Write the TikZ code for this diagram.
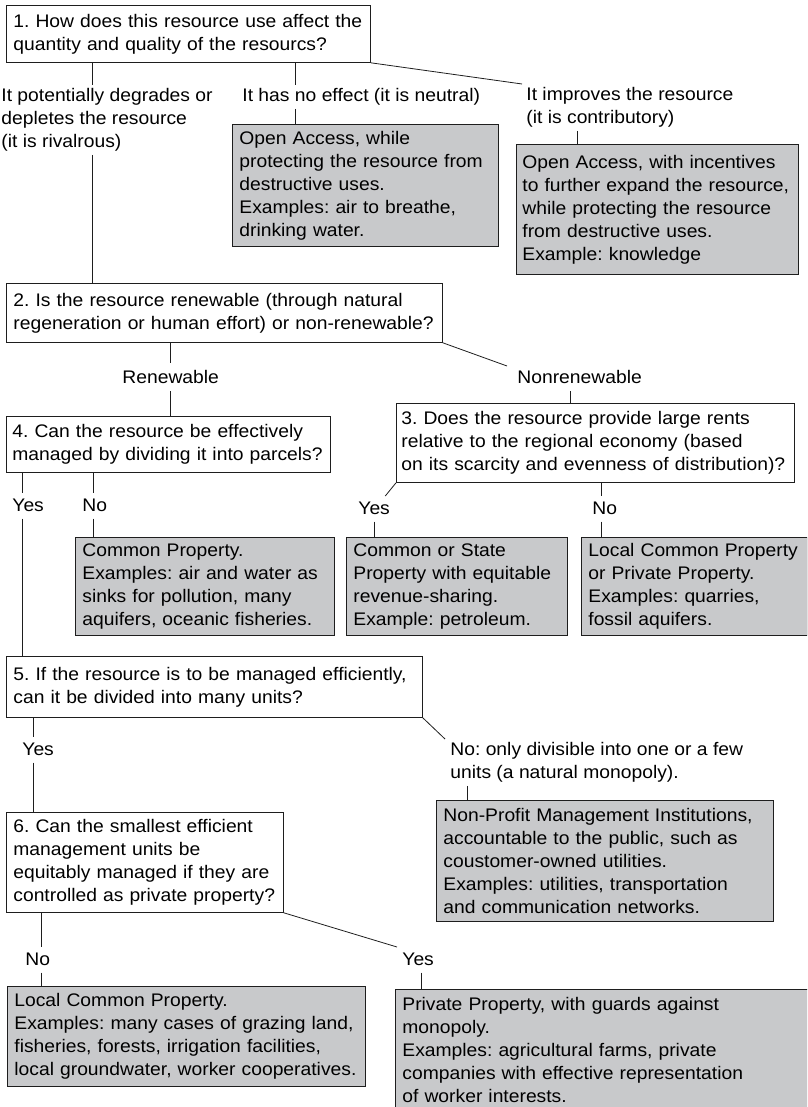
\documentclass[tikz,border=0pt]{standalone}
\usepackage{fontspec}
\setmainfont{Liberation Sans}[FakeStretch=1.06]
\frenchspacing
\definecolor{boxgray}{RGB}{200,201,203}
\definecolor{inkgray}{RGB}{30,30,30}
\tikzset{
  question/.style={draw=inkgray, fill=white, anchor=north west, align=left, inner xsep=7pt, inner ysep=0pt},
  answer/.style={question, fill=boxgray},
  branch/.style={anchor=north west, align=left, inner xsep=0pt, inner ysep=3pt},
}
\begin{document}
\begin{tikzpicture}[x=1pt, y=-1pt, font=\fontsize{18.2}{23}\selectfont, line width=0.8pt, draw=inkgray]
    \useasboundingbox (0,0) rectangle (807,1107);
    \clip (0,0) rectangle (807,1107);

    % Nodes
    \node[question, text width=350pt, minimum height=57pt] (Q1) at (6,5) {1. How does this resource use affect the\\quantity and quality of the resourcs?};

    \node[branch] (Rival) at (1,85) {It potentially degrades or\\depletes the resource\\(it is rivalrous)};
    \node[branch] (Neutral) at (242,85) {It has no effect (it is neutral)};
    \node[branch] (Contrib) at (526,84) {It improves the resource\\(it is contributory)};

    \node[answer, text width=252pt, minimum height=122pt] (A1) at (232,124) {Open Access, while\\protecting the resource from\\destructive uses.\\Examples: air to breathe,\\drinking water.};
    \node[answer, inner xsep=6pt, text width=270pt, minimum height=130pt] (A2) at (516,144) {Open Access, with incentives\\to further expand the resource,\\while protecting the resource\\from destructive uses.\\Example: knowledge};

    \node[question, text width=422pt, minimum height=59pt] (Q2) at (6,283) {2. Is the resource renewable (through natural\\regeneration or human effort) or non-renewable?};

    \node[branch, inner ysep=7pt] (Renew) at (122,363) {Renewable};
    \node[branch, inner ysep=7pt] (Nonrenew) at (517,363) {Nonrenewable};

    \node[question, inner xsep=6pt, text width=312pt, minimum height=56pt] (Q4) at (6,416) {4. Can the resource be effectively\\managed by dividing it into parcels?};
    \node[question, inner xsep=5pt, text width=388pt, minimum height=79pt] (Q3) at (396,403) {3. Does the resource provide large rents\\relative to the regional economy (based\\on its scarcity and evenness of distribution)?};

    \node[branch, inner ysep=6pt] (Yes4) at (12,493) {Yes};
    \node[branch, inner ysep=6pt] (No4) at (82,493) {No};
    \node[branch, inner ysep=6pt] (Yes3) at (358,496) {Yes};
    \node[branch, inner ysep=6pt] (No3) at (592,496) {No};

    \node[answer, text width=245pt, minimum height=98pt] (A3) at (75,537) {Common Property.\\Examples: air and water as\\sinks for pollution, many\\aquifers, oceanic fisheries.};
    \node[answer, text width=207pt, minimum height=98pt] (A4) at (346,537) {Common or State\\Property with equitable\\revenue-sharing.\\Example: petroleum.};
    \node[answer, text width=212pt, minimum height=98pt] (A5) at (581,537) {Local Common Property\\or Private Property.\\Examples: quarries,\\fossil aquifers.};

    \node[question, text width=402pt, minimum height=61pt] (Q5) at (6,656) {5. If the resource is to be managed efficiently,\\can it be divided into many units?};

    \node[branch, inner ysep=6pt] (Yes5) at (22,737) {Yes};
    \node[branch] (No5) at (450,739) {No: only divisible into one or a few\\units (a natural monopoly).};

    \node[answer, text width=323pt, minimum height=121pt] (A6) at (436,800) {Non-Profit Management Institutions,\\accountable to the public, such as\\coustomer-owned utilities.\\Examples: utilities, transportation\\and communication networks.};
    \node[question, text width=263pt, minimum height=100pt] (Q6) at (6,812) {6. Can the smallest efficient\\management units be\\equitably managed if they are\\controlled as private property?};

    \node[branch, inner ysep=6pt] (No6) at (25,947) {No};
    \node[branch, inner ysep=6pt] (Yes6) at (402,947) {Yes};

    \node[answer, text width=344pt, minimum height=100pt] (A7) at (7,986) {Local Common Property.\\Examples: many cases of grazing land,\\fisheries, forests, irrigation facilities,\\local groundwater, worker cooperatives.};
    \node[answer, text width=416pt, minimum height=122pt] (A8) at (395,989) {Private Property, with guards against\\monopoly.\\Examples: agricultural farms, private\\companies with effective representation\\of worker interests.};

    % Lines
    \coordinate (c1) at ([xshift=91pt]Rival.north west);
    \coordinate (c2) at ([xshift=53pt]Neutral.north west);
    \coordinate (c3) at ([xshift=51pt]Contrib.north west);
    \draw (Q1.south -| c1) -- (c1);
    \draw (Rival.south -| c1) -- (Q2.north -| c1);
    \draw (Q1.south -| c2) -- (c2);
    \draw (Neutral.south -| c2) -- (A1.north -| c2);
    \draw (Q1.south east) -- ([xshift=-4pt]Contrib.north west);
    \draw (Contrib.south -| c3) -- (A2.north -| c3);

    \draw (Q2.south -| Renew.north) -- (Renew.north);
    \draw (Renew.south) -- (Q4.north -| Renew.south);
    \coordinate (c4) at ([xshift=53pt]Nonrenew.south west);
    \draw (Q2.south east) -- ([xshift=-10pt, yshift=-3pt]Nonrenew.north west);
    \draw (c4) -- (Q3.north -| c4);

    \coordinate (c5) at ([xshift=10pt]Yes4.north west);
    \coordinate (c6) at ([xshift=11pt]No4.north west);
    \draw (Q4.south -| c5) -- (c5);
    \draw (Yes4.south -| c5) -- (Q5.north -| c5);
    \draw (Q4.south -| c6) -- (c6);
    \draw (No4.south -| c6) -- (A3.north -| c6);

    \coordinate (c7) at ([xshift=16pt]Yes3.north west);
    \coordinate (c8) at ([xshift=9pt]No3.north west);
    \draw (Q3.south west) -- ([xshift=-5pt]Yes3.north east);
    \draw (Yes3.south -| c7) -- (A4.north -| c7);
    \draw (Q3.south -| c8) -- (c8);
    \draw (No3.south -| c8) -- (A5.north -| c8);

    \coordinate (c9) at ([xshift=11pt]Yes5.north west);
    \coordinate (c10) at ([xshift=17pt]No5.north west);
    \draw (Q5.south -| c9) -- (c9);
    \draw (Yes5.south -| c9) -- (Q6.north -| c9);
    \draw (Q5.south east) -- ([xshift=-5pt]No5.north west);
    \draw (No5.south -| c10) -- (A6.north -| c10);

    \coordinate (c11) at ([xshift=16pt]No6.north west);
    \coordinate (c12) at ([xshift=19pt]Yes6.north west);
    \draw (Q6.south -| c11) -- (c11);
    \draw (No6.south -| c11) -- (A7.north -| c11);
    \draw (Q6.south east) -- ([xshift=-5pt]Yes6.north west);
    \draw (Yes6.south -| c12) -- (A8.north -| c12);

\end{tikzpicture}
\end{document}
